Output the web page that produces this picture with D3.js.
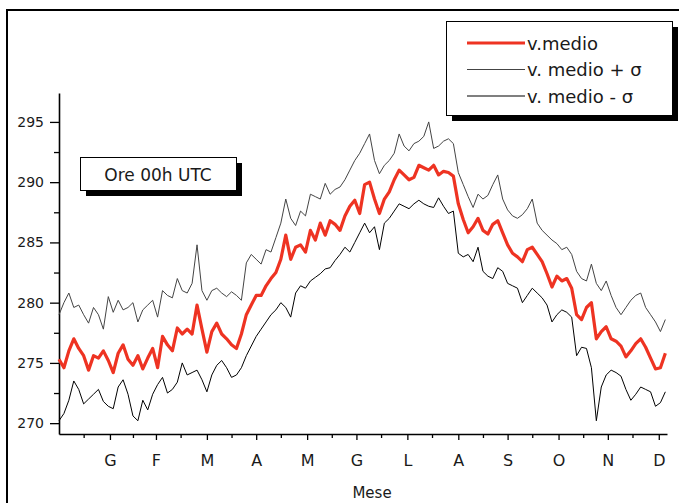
<!DOCTYPE html>
<html lang="it">
<head>
  <meta charset="UTF-8">
  <title>Temperatura media giornaliera - Ore 00h UTC</title>
  <script src="https://d3js.org/d3.v7.min.js"></script>
  <style>
    body {
      margin: 0;
      padding: 0;
      background: #fff;
      font-family: 'DejaVu Sans', sans-serif;
    }
    svg text { fill: #1a1a1a; }
  </style>
</head>
<body>
  <svg id="chart"></svg>

  <script>
    // Month labels (Gennaio ... Dicembre) and the day of year where each tick sits
    const months = ["G", "F", "M", "A", "M", "G", "L", "A", "S", "O", "N", "D"];
    const monthDays = [31, 59, 90, 120, 151, 181, 212, 243, 273, 304, 334, 365];
    const midDays = [15, 45, 74, 105, 135, 166, 196, 227, 258, 288, 319, 349];

    const yTicks = [270, 275, 280, 285, 290, 295];
    const yMinor = [272.5, 277.5, 282.5, 287.5, 292.5];

    // sampled every 3 days (day 0 ... 369)
    const days = d3.range(0, 372, 3);

    // v.medio
    const meanVals = [
      275.3,274.6,276.0,277.0,276.2,275.6,274.4,275.6,275.4,276.0,
      275.2,274.2,275.8,276.5,275.3,274.8,275.6,274.5,275.4,276.2,
      274.6,277.2,276.5,276.0,277.9,277.4,277.8,277.4,279.8,277.8,
      275.9,277.6,278.3,277.4,277.0,276.5,276.2,277.4,279.0,279.8,
      280.6,280.6,281.4,282.0,282.5,283.6,285.6,283.6,284.6,284.8,
      284.2,286.0,285.2,286.6,285.6,286.8,286.5,286.0,287.2,288.0,
      288.5,287.4,289.8,290.0,288.6,287.4,288.6,289.2,290.2,291.0,
      290.6,290.2,290.4,291.4,291.2,291.0,291.4,290.6,290.9,290.8,
      290.5,288.2,286.9,285.8,286.3,287.0,286.0,285.7,286.5,286.8,
      285.8,284.8,284.1,283.8,283.4,284.4,284.6,284.0,283.4,282.4,
      281.3,282.2,281.8,282.0,281.2,279.0,278.6,279.6,280.0,277.0,
      277.6,278.0,277.0,276.8,276.4,275.5,276.0,276.6,277.0,276.3,
      275.4,274.5,274.6,275.8
    ];

    // v. medio + sigma
    const upperVals = [
      279.0,280.0,280.8,279.6,279.8,279.0,278.3,279.6,279.0,277.8,
      280.5,279.2,280.2,279.4,279.6,280.0,278.4,279.4,279.8,280.2,
      278.8,281.0,280.6,280.4,282.0,281.0,280.8,281.6,284.8,281.0,
      280.2,281.0,281.2,280.8,280.5,280.9,280.6,280.2,283.3,284.0,
      283.6,283.2,284.4,284.2,285.4,286.6,288.6,287.0,286.4,287.6,
      287.2,289.0,288.8,288.6,289.9,289.0,289.4,289.6,290.2,291.0,
      291.8,292.4,293.2,294.0,291.8,290.7,291.4,291.8,292.4,294.0,
      293.0,292.6,293.2,293.4,293.8,295.0,292.8,293.0,293.4,293.6,
      293.2,290.8,289.8,288.8,287.9,289.0,288.6,288.9,289.8,290.6,
      288.6,287.7,287.2,287.0,287.3,287.8,288.6,286.6,286.0,285.6,
      285.2,284.9,284.4,284.6,284.0,282.6,282.0,281.8,283.2,281.6,
      281.0,281.8,280.6,279.6,279.0,279.6,280.2,280.6,280.8,279.6,
      279.0,278.4,277.6,278.6
    ];

    // v. medio - sigma
    const lowerVals = [
      270.2,270.8,271.9,273.5,272.8,271.6,272.0,272.4,272.8,271.8,
      271.4,271.2,273.0,273.6,272.4,270.6,270.2,271.9,271.1,272.4,
      273.2,273.8,272.5,272.8,273.4,275.0,274.0,274.2,274.4,273.6,
      272.6,274.0,274.8,275.2,274.6,273.8,274.0,274.6,275.6,276.4,
      277.2,277.8,278.4,279.0,279.4,280.0,279.6,278.8,280.8,281.4,
      281.2,281.8,282.1,282.4,282.8,282.9,283.5,284.0,284.6,284.2,
      285.0,285.8,286.6,285.8,286.3,284.4,286.6,287.0,287.6,288.2,
      288.0,287.8,288.2,288.5,288.2,288.0,287.9,288.7,288.0,287.4,
      287.6,284.1,283.8,284.0,283.4,284.6,282.6,282.2,282.0,282.9,
      282.6,281.6,281.4,281.2,280.0,280.6,281.2,280.8,280.4,279.8,
      278.4,279.0,279.4,279.2,278.8,275.6,276.3,276.2,274.6,270.2,
      273.0,274.0,274.4,274.2,273.9,272.8,271.9,272.4,273.0,272.8,
      272.6,271.4,271.7,272.6
    ];

    const width = 679, height = 503;
    const svg = d3.select("#chart").attr("width", width).attr("height", height);

    // outer frame (continues past the right/bottom edge)
    svg.append("rect")
      .attr("x", 7).attr("y", 10)
      .attr("width", 720).attr("height", 600)
      .attr("fill", "none").attr("stroke", "#000").attr("stroke-width", 2);

    const x = d3.scaleLinear().domain([0, 370]).range([59, 667]);
    const y = d3.scaleLinear().domain([269.1, 297.4]).range([434, 93]);

    // y axis: major + minor ticks, pointing outward
    svg.append("g")
      .attr("transform", "translate(59,0)")
      .call(d3.axisLeft(y).tickValues(yMinor).tickSize(5).tickFormat(""))
      .call(g => g.select(".domain").remove())
      .selectAll("line").attr("stroke-width", 1.3);

    const yAx = svg.append("g")
      .attr("transform", "translate(59,0)")
      .call(d3.axisLeft(y).tickValues(yTicks).tickSize(9).tickPadding(6).tickSizeOuter(0));
    yAx.selectAll("text").attr("font-size", 14).attr("font-family", "'DejaVu Sans', sans-serif");
    yAx.selectAll("line").attr("stroke-width", 1.3);
    yAx.select(".domain").attr("stroke-width", 1.6);

    // x axis
    svg.append("g")
      .attr("transform", "translate(0,434)")
      .call(d3.axisBottom(x).tickValues(midDays).tickSize(4).tickFormat(""))
      .call(g => g.select(".domain").remove())
      .selectAll("line").attr("stroke-width", 1.3);

    const xAx = svg.append("g")
      .attr("transform", "translate(0,434)")
      .call(d3.axisBottom(x).tickValues(monthDays).tickSize(6).tickPadding(15)
        .tickSizeOuter(0).tickFormat((d, i) => months[i]));
    xAx.selectAll("text").attr("font-size", 16).attr("font-family", "'DejaVu Sans', sans-serif");
    xAx.selectAll("line").attr("stroke-width", 1.3);
    xAx.select(".domain").attr("stroke-width", 1.6);

    svg.append("text")
      .attr("x", 372).attr("y", 498)
      .attr("text-anchor", "middle")
      .attr("font-size", 15)
      .text("Mese");

    // series
    const line = vals => d3.line()
      .x((d, i) => x(days[i]))
      .y(d => y(d))(vals);

    svg.append("path").attr("d", line(upperVals))
      .attr("fill", "none").attr("stroke", "#444").attr("stroke-width", 1);
    svg.append("path").attr("d", line(lowerVals))
      .attr("fill", "none").attr("stroke", "#000").attr("stroke-width", 1);
    svg.append("path").attr("d", line(meanVals))
      .attr("fill", "none").attr("stroke", "#ee3322").attr("stroke-width", 3.2)
      .attr("stroke-linejoin", "round");

    // "Ore 00h UTC" label box with drop shadow
    svg.append("rect").attr("x", 86).attr("y", 163).attr("width", 156).attr("height", 33).attr("fill", "#000");
    svg.append("rect").attr("x", 80.5).attr("y", 157.5).attr("width", 156).attr("height", 33)
      .attr("fill", "#fff").attr("stroke", "#000").attr("stroke-width", 1);
    svg.append("text")
      .attr("x", 158).attr("y", 180.5)
      .attr("text-anchor", "middle")
      .attr("font-size", 17)
      .text("Ore 00h UTC");

    // legend with drop shadow
    const legendItems = [
      { label: "v.medio", color: "#ee3322", w: 3 },
      { label: "v. medio + \u03c3", color: "#444", w: 1 },
      { label: "v. medio - \u03c3", color: "#000", w: 1.2 }
    ];
    svg.append("rect").attr("x", 452).attr("y", 27).attr("width", 226).attr("height", 94).attr("fill", "#000");
    svg.append("rect").attr("x", 446.5).attr("y", 21.5).attr("width", 226).attr("height", 94)
      .attr("fill", "#fff").attr("stroke", "#000").attr("stroke-width", 1);
    const lg = svg.append("g").selectAll("g").data(legendItems).join("g")
      .attr("transform", (d, i) => "translate(0," + (43 + i * 26.5) + ")");
    lg.append("line")
      .attr("x1", 467).attr("x2", 525)
      .attr("stroke", d => d.color).attr("stroke-width", d => d.w);
    lg.append("text")
      .attr("x", 527).attr("y", 6.5)
      .attr("font-size", 18)
      .text(d => d.label);
  </script>
</body>
</html>
